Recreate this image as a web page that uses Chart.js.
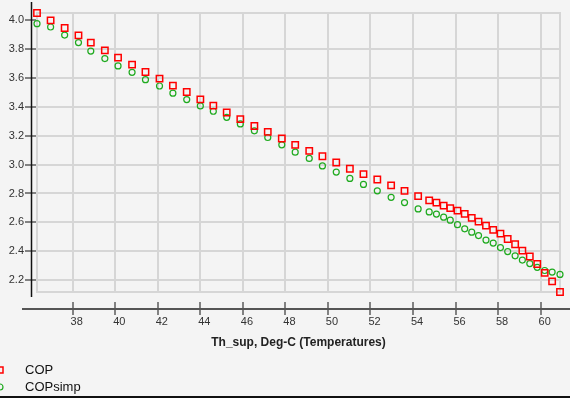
<!DOCTYPE html>
<html>
<head>
<meta charset="utf-8">
<script src="https://cdn.jsdelivr.net/npm/chart.js@4.4.1/dist/chart.umd.min.js"></script>
<style>
html, body { margin: 0; padding: 0; background: #f4f4f4; }
#wrap { width: 570px; height: 398px; }
</style>
</head>
<body>
<div id="wrap"><canvas id="chart" width="570" height="398"></canvas></div>
<script>
// Th_sup, Deg-C
var thSup = [36.32, 36.96, 37.62, 38.27, 38.85, 39.51, 40.13, 40.79, 41.42, 42.08,
    42.71, 43.36, 44.00, 44.61, 45.24, 45.88, 46.54, 47.17, 47.83, 48.46,
    49.12, 49.74, 50.39, 51.03, 51.67, 52.32, 52.97, 53.60, 54.24, 54.76,
    55.10, 55.44, 55.75, 56.09, 56.43, 56.76, 57.08, 57.43, 57.77, 58.11,
    58.45, 58.80, 59.14, 59.49, 59.84, 60.19, 60.54, 60.91];

var cop = [4.051, 4.000, 3.947, 3.896, 3.846, 3.792, 3.742, 3.693, 3.642, 3.596,
    3.548, 3.503, 3.452, 3.409, 3.361, 3.315, 3.268, 3.227, 3.181, 3.137,
    3.095, 3.058, 3.015, 2.971, 2.934, 2.897, 2.856, 2.818, 2.782, 2.752,
    2.737, 2.716, 2.698, 2.681, 2.659, 2.631, 2.605, 2.577, 2.548, 2.522,
    2.484, 2.448, 2.404, 2.363, 2.311, 2.250, 2.191, 2.117];

var copSimp = [3.977, 3.954, 3.898, 3.846, 3.787, 3.735, 3.684, 3.640, 3.589, 3.545,
    3.495, 3.451, 3.407, 3.370, 3.328, 3.282, 3.234, 3.188, 3.137, 3.086,
    3.043, 2.991, 2.948, 2.904, 2.863, 2.818, 2.773, 2.737, 2.693, 2.672,
    2.657, 2.636, 2.615, 2.584, 2.555, 2.532, 2.508, 2.477, 2.456, 2.425,
    2.397, 2.368, 2.338, 2.314, 2.288, 2.266, 2.255, 2.239];

var xTicks = [38, 40, 42, 44, 46, 48, 50, 52, 54, 56, 58, 60];
var yTicks = [2.2, 2.4, 2.6, 2.8, 3.0, 3.2, 3.4, 3.6, 3.8, 4.0];

var xTitle = "Th_sup, Deg-C (Temperatures)";

function pts(xs, ys) {
    return xs.map(function (x, i) { return {x: x, y: ys[i]}; });
}

var FONT = "'Liberation Sans', Arial, sans-serif";

// frame, offset axis lines, legend
var decor = {
    id: 'decor',
    beforeDatasetsDraw: function (chart) {
        var ctx = chart.ctx, a = chart.chartArea;
        var xs = chart.scales.x, ys = chart.scales.y;
        ctx.save();
        ctx.strokeStyle = '#d6d6d6';
        ctx.lineWidth = 2;
        ctx.strokeRect(a.left, a.top, a.right - a.left, a.bottom - a.top);
        // y axis line
        ctx.strokeStyle = '#111';
        ctx.lineWidth = 1.5;
        ctx.beginPath();
        ctx.moveTo(31.5, 2);
        ctx.lineTo(31.5, 297);
        ctx.stroke();
        // x axis line
        ctx.strokeStyle = '#555';
        ctx.lineWidth = 2;
        ctx.beginPath();
        ctx.moveTo(22, 309);
        ctx.lineTo(570, 309);
        ctx.stroke();
        ctx.restore();
    },
    afterDraw: function (chart) {
        var ctx = chart.ctx;
        ctx.save();
        chart.data.datasets.forEach(function (ds, i) {
            var y = 370 + i * 17;
            ctx.strokeStyle = ds.pointBorderColor;
            ctx.lineWidth = ds.pointBorderWidth;
            ctx.beginPath();
            if (ds.pointStyle === 'rect') {
                ctx.rect(-3, y - 3, 6, 6);
            } else {
                ctx.arc(0, y, 3, 0, Math.PI * 2);
            }
            ctx.stroke();
            ctx.fillStyle = '#111';
            ctx.font = '13px ' + FONT;
            ctx.textBaseline = 'middle';
            ctx.fillText(ds.label, 25, y);
        });
        ctx.fillStyle = '#111';
        ctx.fillRect(0, 396, 570, 2);
        ctx.restore();
    }
};

new Chart(document.getElementById('chart'), {
    type: 'scatter',
    data: {
        datasets: [{
            label: 'COP',
            data: pts(thSup, cop),
            pointStyle: 'rect',
            pointRadius: 4.5,
            pointBorderWidth: 1.5,
            pointBorderColor: '#ff0000',
            pointBackgroundColor: 'rgba(0,0,0,0)',
            clip: false
        }, {
            label: 'COPsimp',
            data: pts(thSup, copSimp),
            pointStyle: 'circle',
            pointRadius: 3,
            pointBorderWidth: 1.2,
            pointBorderColor: '#1faa1f',
            pointBackgroundColor: 'rgba(0,0,0,0)',
            clip: false
        }]
    },
    options: {
        responsive: false,
        animation: false,
        events: [],
        layout: {padding: {top: 13, right: 10, bottom: 46, left: 0}, autoPadding: false},
        plugins: {legend: {display: false}, tooltip: {enabled: false}},
        scales: {
            x: {
                type: 'linear',
                bounds: 'data',
                afterBuildTicks: function (s) { s.ticks = xTicks.map(function (v) { return {value: v}; }); },
                afterFit: function (s) { s.height = 60; },
                border: {display: false},
                grid: {
                    color: '#d6d6d6',
                    lineWidth: 2,
                    drawTicks: true,
                    tickLength: 23,
                    tickColor: '#111',
                    tickWidth: 1,
                    tickBorderDash: [13, 10],
                    tickBorderDashOffset: 13
                },
                ticks: {
                    font: {family: FONT, size: 11},
                    color: '#333',
                    padding: 0,
                    labelOffset: 4,
                    maxRotation: 0,
                    autoSkip: false,
                    callback: function (v) { return String(v); }
                },
                title: {
                    display: true,
                    text: xTitle,
                    font: {family: FONT, size: 12, weight: 'bold'},
                    color: '#222',
                    padding: {top: 0, bottom: 2}
                }
            },
            y: {
                type: 'linear',
                bounds: 'data',
                afterBuildTicks: function (s) { s.ticks = yTicks.map(function (v) { return {value: v}; }); },
                afterFit: function (s) { s.width = 37; },
                border: {display: false},
                grid: {
                    color: function (c) {
                        return (c.tick && Math.abs(c.tick.value - 4) < 1e-6) ? 'rgba(0,0,0,0)' : '#d6d6d6';
                    },
                    lineWidth: 2,
                    drawTicks: true,
                    tickLength: 12,
                    tickColor: '#111',
                    tickWidth: 1
                },
                ticks: {
                    font: {family: FONT, size: 11},
                    color: '#333',
                    padding: 1,
                    autoSkip: false,
                    callback: function (v) { return Number(v).toFixed(1); }
                }
            }
        }
    },
    plugins: [decor]
});
</script>
</body>
</html>
